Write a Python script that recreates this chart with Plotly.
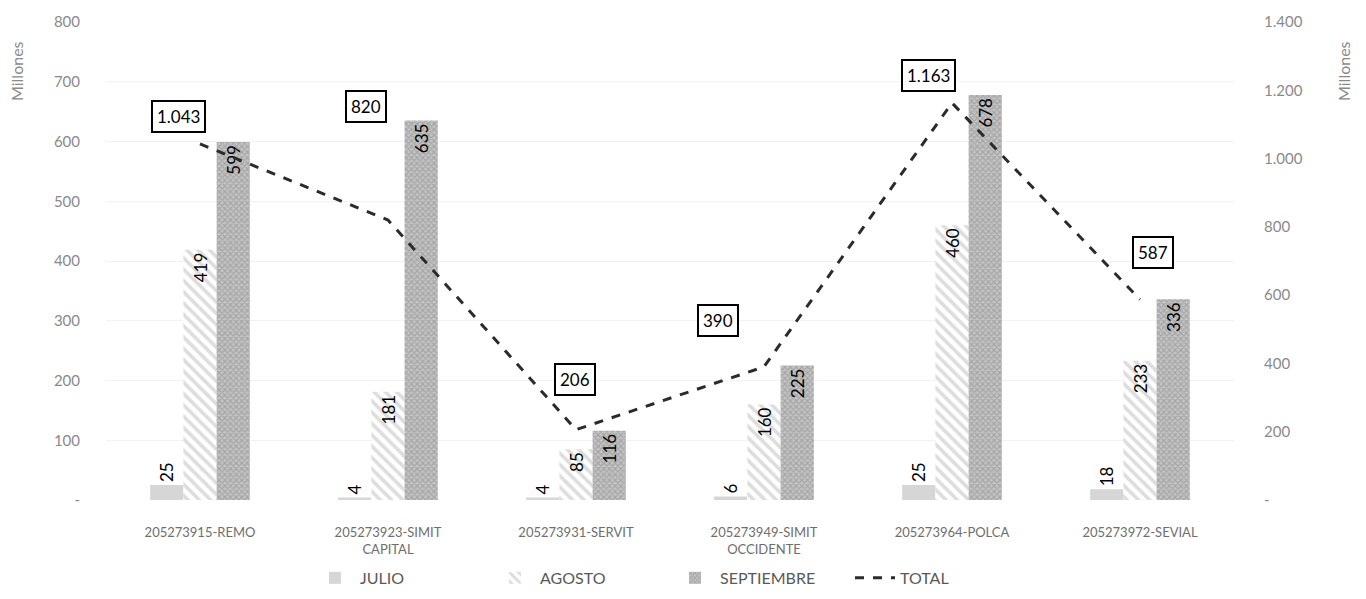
import plotly.graph_objects as go

categories = ["205273915-REMO", "205273923-SIMIT<br>CAPITAL", "205273931-SERVIT",
              "205273949-SIMIT<br>OCCIDENTE", "205273964-POLCA", "205273972-SEVIAL"]
julio = [25, 4, 4, 6, 25, 18]
agosto = [419, 181, 85, 160, 460, 233]
septiembre = [599, 635, 116, 225, 678, 336]
total = [1043, 820, 206, 390, 1163, 587]
total_labels = ["1.043", "820", "206", "390", "1.163", "587"]

left_ticks = [0, 100, 200, 300, 400, 500, 600, 700, 800]
left_ticktext = ["-", "100", "200", "300", "400", "500", "600", "700", "800"]
right_ticks = [0, 200, 400, 600, 800, 1000, 1200, 1400]
right_ticktext = ["-", "200", "400", "600", "800", "1.000", "1.200", "1.400"]

# label offsets (pixels) for the boxed total labels
lbl_dx = [-22, -22, -1, -46, -24, 13]
lbl_dy = [27, 114, 50, 46, 27, 47]

FONT = "Lato"
fig = go.Figure()
fig.add_trace(go.Bar(
    x=categories, y=julio, name="JULIO",
    marker=dict(color="#d6d6d6", line=dict(width=0)),
    text=[str(v) for v in julio], textposition="outside", textangle=-90,
    textfont=dict(family=FONT, size=17, color="black"), cliponaxis=False))
fig.add_trace(go.Bar(
    x=categories, y=agosto, name="AGOSTO",
    marker=dict(color="white", line=dict(width=0),
                pattern=dict(shape="\\", fgcolor="#bcbcbc", bgcolor="white", size=8, solidity=0.45)),
    text=[str(v) for v in agosto], textposition="inside", insidetextanchor="end", textangle=-90,
    textfont=dict(family=FONT, size=17, color="black")))
fig.add_trace(go.Bar(
    x=categories, y=septiembre, name="SEPTIEMBRE",
    marker=dict(color="#b0b0b0", line=dict(width=0),
                pattern=dict(shape="x", fgcolor="#858585", bgcolor="#c4c4c4", size=4, solidity=0.5)),
    text=[str(v) for v in septiembre], textposition="inside", insidetextanchor="end", textangle=-90,
    textfont=dict(family=FONT, size=17, color="black")))
fig.add_trace(go.Scatter(
    x=categories, y=total, name="TOTAL", yaxis="y2", mode="lines",
    line=dict(color="#2b2b2b", width=3, dash="dash")))

for i, (c, v, t) in enumerate(zip(categories, total, total_labels)):
    fig.add_annotation(x=c, y=v, xref="x", yref="y2", text=t, showarrow=False,
                       xshift=lbl_dx[i], yshift=lbl_dy[i],
                       font=dict(family=FONT, size=17, color="black"),
                       bgcolor="white", bordercolor="black", borderwidth=2, borderpad=4)

# axis titles placed at the top of each axis, as in the reference
fig.add_annotation(text="Millones", xref="paper", yref="paper", x=-0.0789, y=0.8975,
                   xanchor="center", yanchor="middle", textangle=-90, showarrow=False,
                   font=dict(family=FONT, size=16, color="#8a8a8a"))
fig.add_annotation(text="Millones", xref="paper", yref="paper", x=1.0975, y=0.8975,
                   xanchor="center", yanchor="middle", textangle=-90, showarrow=False,
                   font=dict(family=FONT, size=16, color="#8a8a8a"))

fig.update_layout(
    width=1350, height=583,
    margin=dict(l=98, r=124, t=14, b=91, autoexpand=False),
    paper_bgcolor="white", plot_bgcolor="white",
    barmode="group", bargap=0.47, bargroupgap=0,
    font=dict(family=FONT, color="#7f7f7f", size=14),
    xaxis=dict(tickfont=dict(size=13, color="#6e6e6e"), showline=False, ticks="",
               ticklabelstandoff=23, automargin=False),
    yaxis=dict(range=[0, 800], tickvals=left_ticks, ticktext=left_ticktext,
               showgrid=True, gridcolor="#f2f2f2", zeroline=False, automargin=False,
               ticklabelstandoff=25, tickfont=dict(size=15, color="#8a8a8a")),
    yaxis2=dict(range=[0, 1400], tickvals=right_ticks, ticktext=right_ticktext,
                overlaying="y", side="right", showgrid=False, zeroline=False, automargin=False,
                ticklabelstandoff=29, tickfont=dict(size=15, color="#8a8a8a")),
    legend=dict(orientation="h", x=0.5, xanchor="center", y=-0.163, yanchor="middle",
                font=dict(size=16, color="#595959"), itemwidth=40,
                entrywidth=125, entrywidthmode="pixels"),
)
fig.write_html("out.html")
